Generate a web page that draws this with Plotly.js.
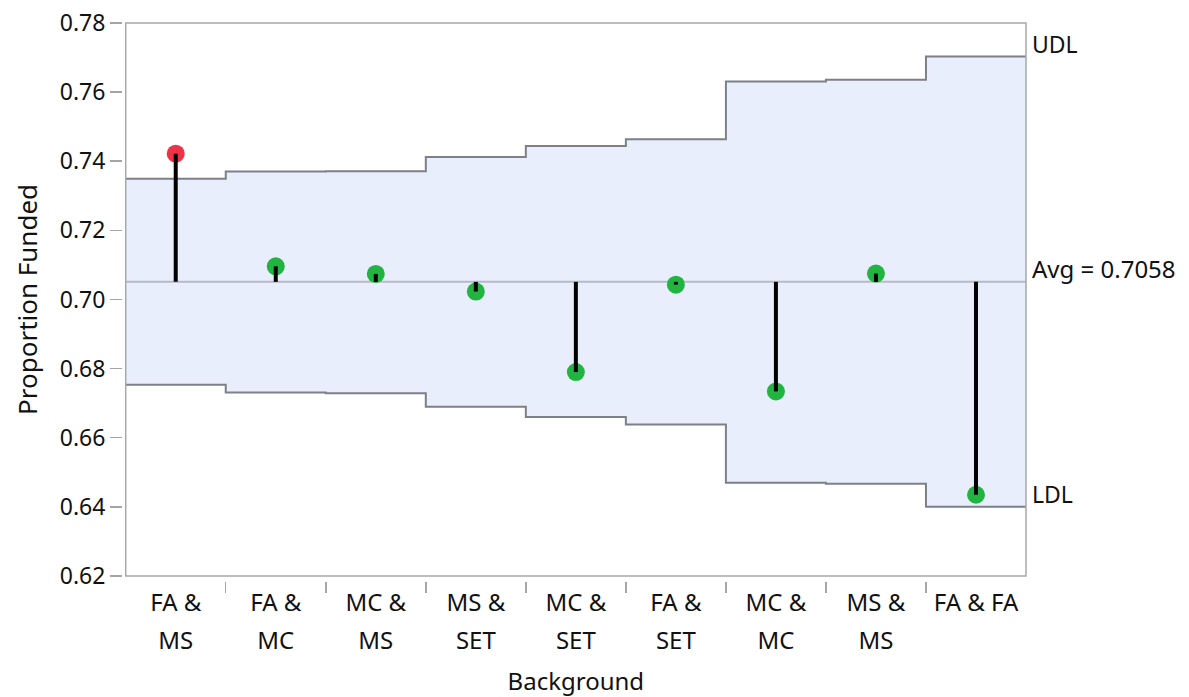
<!DOCTYPE html>
<html>
<head>
<meta charset="utf-8">
<script src="https://cdn.plot.ly/plotly-3.0.1.min.js"></script>
<style>
  html, body { margin: 0; padding: 0; background: #ffffff; }
  #chart { width: 1189px; height: 697px; }
</style>
</head>
<body>
<div id="chart"></div>
<script>
// ---- data ----
const categories = ["FA & MS", "FA & MC", "MC & MS", "MS & SET", "MC & SET", "FA & SET", "MC & MC", "MS & MS", "FA & FA"];
const tickLine1 = ["FA &", "FA &", "MC &", "MS &", "MC &", "FA &", "MC &", "MS &", "FA & FA"];
const tickLine2 = ["MS", "MC", "MS", "SET", "SET", "SET", "MC", "MS", ""];
const proportionFunded = [0.7422, 0.7096, 0.7074, 0.7023, 0.6790, 0.7043, 0.6734, 0.7075, 0.6435];
const upperLimit = [0.7349, 0.7370, 0.7371, 0.7412, 0.7444, 0.7464, 0.7631, 0.7636, 0.7703];
const lowerLimit = [0.6753, 0.6731, 0.6729, 0.6690, 0.6660, 0.6638, 0.6470, 0.6467, 0.6400];
const centerLine = 0.7051;
const avgLabel = "Avg = 0.7058";
const yTickVals = [0.62, 0.64, 0.66, 0.68, 0.70, 0.72, 0.74, 0.76, 0.78];

// ---- derived ----
const n = categories.length;
const idx = categories.map((_, i) => i);
const bounds = idx.map(i => i - 0.5).concat([n - 0.5]);
const innerBounds = idx.slice(1).map(i => i - 0.5);
const stepU = upperLimit.concat([upperLimit[n - 1]]);
const stepL = lowerLimit.concat([lowerLimit[n - 1]]);
const stemX = [], stemY = [];
idx.forEach(i => { stemX.push(i, i, null); stemY.push(centerLine, proportionFunded[i], null); });
const pointColors = proportionFunded.map((v, i) => (v > upperLimit[i] || v < lowerLimit[i]) ? '#EF3347' : '#22B441');

const FONT = '"Noto Sans", "Open Sans", sans-serif';
const stepColor = '#7D8088';
const TXT = '#111111';

const traces = [
  { x: bounds, y: stepL, mode: 'lines', line: { shape: 'hv', color: stepColor, width: 2 }, hoverinfo: 'skip', showlegend: false },
  { x: bounds, y: stepU, mode: 'lines', line: { shape: 'hv', color: stepColor, width: 2 }, fill: 'tonexty', fillcolor: '#E8EEFC', hoverinfo: 'skip', showlegend: false },
  { x: [bounds[0], bounds[n]], y: [centerLine, centerLine], mode: 'lines', line: { color: '#B6BAC6', width: 2 }, hoverinfo: 'skip', showlegend: false },
  { x: idx, y: proportionFunded, mode: 'markers', marker: { size: 18, color: pointColors }, text: categories, showlegend: false },
  { x: stemX, y: stemY, mode: 'lines', line: { color: '#000000', width: 4 }, hoverinfo: 'skip', showlegend: false },
  { x: [0], y: [centerLine], xaxis: 'x2', mode: 'markers', opacity: 0, hoverinfo: 'skip', showlegend: false },
  { x: [0], y: [centerLine], xaxis: 'x3', mode: 'markers', opacity: 0, hoverinfo: 'skip', showlegend: false }
];

const xRange = [-0.5, n - 0.5];
const layout = {
  width: 1189, height: 697,
  margin: { l: 122, r: 163, t: 23, b: 116 },
  paper_bgcolor: '#ffffff', plot_bgcolor: '#ffffff',
  font: { family: FONT, size: 24, color: TXT },
  showlegend: false,
  xaxis: {
    domain: [0.0041, 1], anchor: 'free', position: 0,
    range: xRange, tickvals: idx, ticktext: tickLine1,
    ticks: '', showgrid: false, zeroline: false, showline: false,
    tickfont: { family: FONT, size: 24, color: TXT },
    ticklabelstandoff: 5
  },
  xaxis2: {
    domain: [0.0041, 1], anchor: 'free', position: 0, overlaying: 'x',
    range: xRange, tickvals: innerBounds, showticklabels: false,
    ticks: 'outside', ticklen: 11, tickwidth: 1.5, tickcolor: '#A5A5A5',
    showgrid: false, zeroline: false, showline: false
  },
  xaxis3: {
    domain: [0.0041, 1], anchor: 'free', position: 0, overlaying: 'x',
    range: xRange, tickvals: idx, ticktext: tickLine2,
    ticks: '', showgrid: false, zeroline: false, showline: false,
    tickfont: { family: FONT, size: 24, color: TXT },
    ticklabelstandoff: 43,
    title: { text: 'Background', font: { family: FONT, size: 24, color: TXT }, standoff: 23 }
  },
  yaxis: {
    domain: [0.009, 1], anchor: 'free', position: 0,
    range: [0.62, 0.78], tickvals: yTickVals, tickformat: '.2f',
    ticks: 'outside', ticklen: 12, tickwidth: 1.5, tickcolor: '#A5A5A5',
    showgrid: false, zeroline: false, showline: false,
    tickfont: { family: FONT, size: 23, color: TXT },
    title: { text: 'Proportion Funded', font: { family: FONT, size: 26, color: TXT }, standoff: 13 }
  },
  shapes: [
    { type: 'rect', xref: 'x domain', yref: 'y domain', x0: 0, x1: 1, y0: 0, y1: 1, line: { color: '#A8A8A8', width: 1.5 }, fillcolor: 'rgba(0,0,0,0)', layer: 'above' }
  ],
  annotations: [
    { xref: 'x domain', yref: 'y', x: 1, y: upperLimit[n - 1], text: 'UDL', showarrow: false, xanchor: 'left', yanchor: 'middle', xshift: 4, yshift: 13, font: { family: FONT, size: 23, color: TXT } },
    { xref: 'x domain', yref: 'y', x: 1, y: centerLine, text: avgLabel, showarrow: false, xanchor: 'left', yanchor: 'middle', xshift: 4, yshift: 13, font: { family: FONT, size: 24, color: TXT } },
    { xref: 'x domain', yref: 'y', x: 1, y: lowerLimit[n - 1], text: 'LDL', showarrow: false, xanchor: 'left', yanchor: 'middle', xshift: 4, yshift: 13, font: { family: FONT, size: 23, color: TXT } }
  ]
};

Plotly.newPlot('chart', traces, layout, { displayModeBar: false, staticPlot: true });
</script>
</body>
</html>
